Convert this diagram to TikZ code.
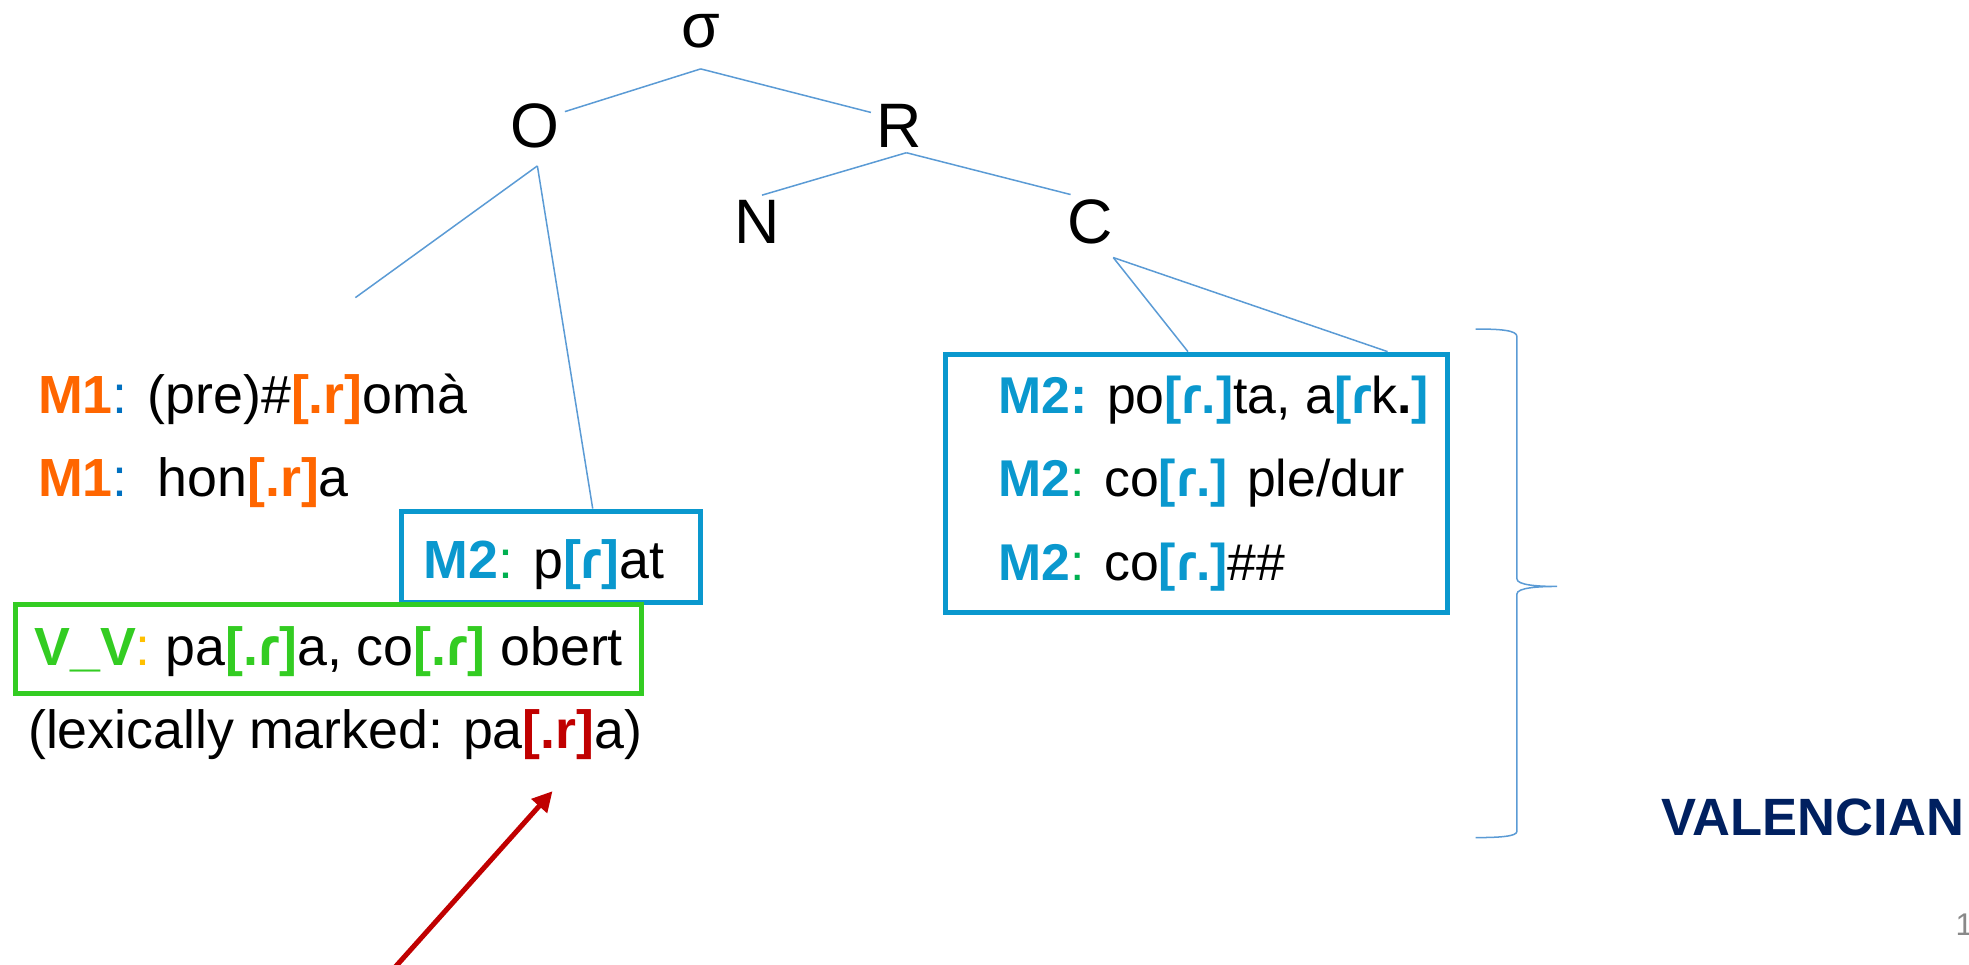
\documentclass[tikz,border=0pt]{standalone}
\usepackage{fontspec}
\setmainfont{Liberation Sans}
\usetikzlibrary{arrows.meta}
\definecolor{treeblue}{HTML}{5B9BD5}
\definecolor{mtwo}{HTML}{0A98CE}
\definecolor{mone}{HTML}{FF6600}
\definecolor{colblue}{HTML}{0070C0}
\definecolor{vvgreen}{HTML}{33CC22}
\definecolor{colgreen}{HTML}{00B050}
\definecolor{colyellow}{HTML}{FFC000}
\definecolor{lexred}{HTML}{C00000}
\definecolor{navy}{HTML}{002060}
\definecolor{pagegray}{HTML}{898989}
\newcommand{\bseg}[2]{{\color{#1}\bfseries #2}}

\begin{document}
\begin{tikzpicture}[x=0.5pt,y=-0.5pt,
    tree node/.style={font=\fontsize{25}{30}\selectfont,inner sep=2pt},
    tree line/.style={treeblue,line width=0.6pt},
    entry/.style={anchor=base west,inner sep=0pt,font=\fontsize{21.4}{26}\selectfont},
    coda entry/.style={entry,font=\fontsize{20.6}{25}\selectfont},
    frame/.style={draw,line width=2pt,inner sep=0pt},
    pointer/.style={lexred,line width=2pt,-{Triangle[length=8pt,width=8pt]}}]
  \useasboundingbox (0,0) rectangle (1568,768);

  % syllable tree
  \node[tree node,inner sep=8pt] (sigma) at (558,25) {σ};
  \node[tree node] (O) at (426,100) {O};
  \node[tree node] (R) at (716,100) {R};
  \node[tree node] (N) at (603,177) {N};
  \node[tree node] (C) at (868,177) {C};
  \coordinate (oleft) at (283,237);

  % boxes
  \node[frame,mtwo,minimum width=119pt,minimum height=36.5pt] (pbox) at (439,443.5) {};
  \node[frame,vvgreen,minimum width=249.5pt,minimum height=35.5pt] (vbox) at (261.5,516.5) {};
  \node[frame,mtwo,minimum width=200pt,minimum height=103pt] (cbox) at (953,385) {};

  \draw[tree line] (sigma.south) -- (O.25);
  \draw[tree line] (sigma.south) -- (R.155);
  \draw[tree line] (R.-75) -- (N.80);
  \draw[tree line] (R.-75) -- (C.125);
  \draw[tree line] ([yshift=-5pt]O.-85) -- (oleft);
  \draw[tree line] ([yshift=-5pt]O.-85) -- ([xshift=16.5pt]pbox.north);
  \draw[tree line] ([yshift=-3pt]C.-50) -- ([xshift=-3.5pt]cbox.north);
  \draw[tree line] ([yshift=-3pt]C.-50) -- ([xshift=-25pt]cbox.north east);

  % onset entries
  \node[entry] (m1a) at (30,329) {\bseg{mone}{M1}\textcolor{colblue}{:} (pre)\#\bseg{mone}{[.r]}omà};
  \node[entry] (m1b) at (30,395) {\bseg{mone}{M1}\textcolor{colblue}{:}\ \ hon\bseg{mone}{[.r]}a};
  \node[entry] (m2a) at (337,461) {\bseg{mtwo}{M2}\textcolor{colgreen}{:} p\bseg{mtwo}{[ɾ]}at};
  \node[entry] (vv) at (27,530) {\bseg{vvgreen}{V\_V}\textcolor{colyellow}{:} pa\bseg{vvgreen}{[.ɾ]}a, co\bseg{vvgreen}{[.ɾ]} obert};
  \node[entry] (lex) at (22,596) {(lexically marked: pa\bseg{lexred}{[.r]}a)};

  % coda entries
  \node[coda entry] (c1) at (795,329) {\bseg{mtwo}{M2:} po\bseg{mtwo}{[ɾ.]}ta, a\bseg{mtwo}{[ɾ}k\textbf{.}\bseg{mtwo}{]}};
  \node[coda entry] (c2) at (795,395) {\bseg{mtwo}{M2}\textcolor{colgreen}{:} co\bseg{mtwo}{[ɾ.]} ple/dur};
  \node[coda entry] (c3) at (795,462) {\bseg{mtwo}{M2}\textcolor{colgreen}{:} co\bseg{mtwo}{[ɾ.]}\#\#};

  % brace
  \draw[tree line] (1175,262) .. controls (1195,262) and (1208,263) .. (1208,268) -- (1208,461)
    .. controls (1208,466) and (1225,467) .. (1240,467)
    .. controls (1225,467) and (1208,468) .. (1208,473) -- (1208,662)
    .. controls (1208,666) and (1195,667) .. (1175,667);

  \node[entry,font=\fontsize{20.9}{25}\selectfont\bfseries,text=navy] (dialect) at (1323,665) {VALENCIAN};
  \node[entry,font=\fontsize{12.5}{15}\selectfont,text=pagegray] (page) at (1557,745) {1};

  \coordinate (tail) at (313,772);
  \coordinate (aim) at (440,630);
  \draw[pointer] (tail) -- (aim);
\end{tikzpicture}
\end{document}
